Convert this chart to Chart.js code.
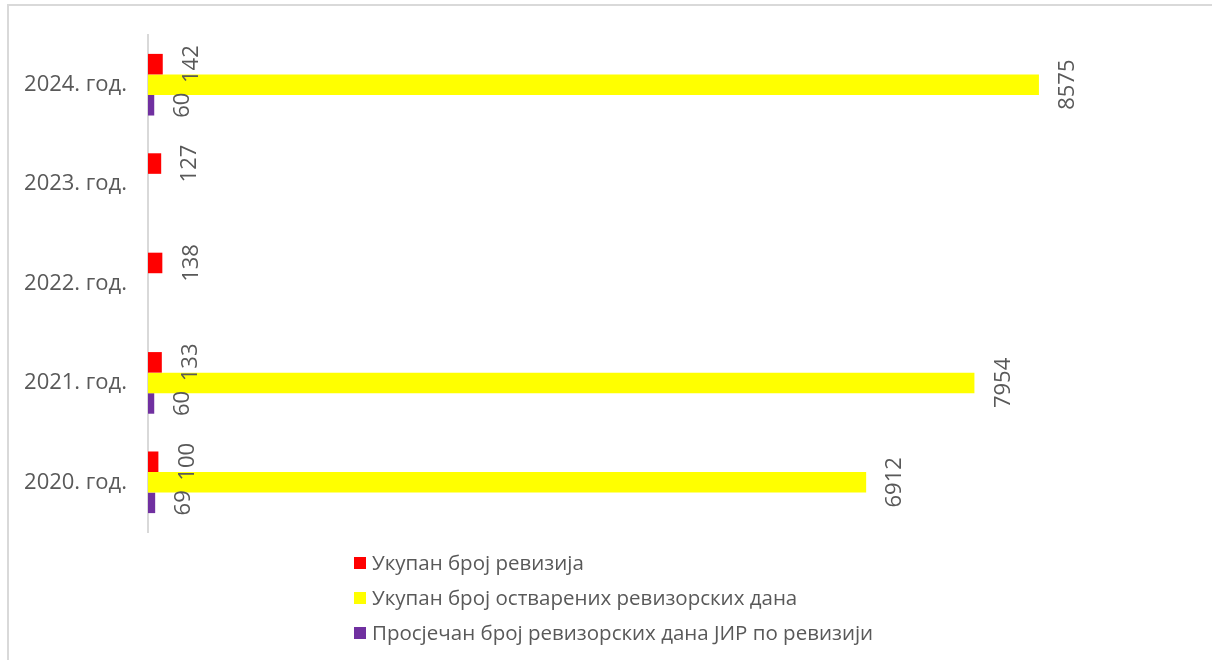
<!DOCTYPE html>
<html>
<head>
<meta charset="utf-8">
<script src="https://cdn.jsdelivr.net/npm/chart.js@4.4.1/dist/chart.umd.min.js"></script>
<style>
  html, body { margin: 0; padding: 0; background: #ffffff; }
  #wrap { position: relative; width: 1212px; height: 660px; overflow: hidden; }
  canvas { display: block; }
</style>
</head>
<body>
<div id="wrap"><canvas id="c" width="1212" height="660"></canvas></div>
<script>
const categories = ['2024. год.', '2023. год.', '2022. год.', '2021. год.', '2020. год.'];
const seriesNames = [
  'Укупан број ревизија',
  'Укупан број остварених ревизорских дана',
  'Просјечан број ревизорских дана ЈИР по ревизији'
];
const totalAudits = [142, 127, 138, 133, 100];
const totalDays = [8575, null, null, 7954, 6912];
const avgDays = [60, null, null, 60, 69];
const seriesColors = ['#FF0000', '#FFFF00', '#7030A0'];
const xMax = 10000;

const FONT = '"Open Sans", "Noto Sans", sans-serif';
const TEXT = '#595959';

const framePlugin = {
  id: 'frame',
  beforeDraw(chart) {
    const ctx = chart.ctx;
    ctx.save();
    ctx.fillStyle = '#ffffff';
    ctx.fillRect(0, 0, chart.width, chart.height);
    ctx.strokeStyle = '#d9d9d9';
    ctx.lineWidth = 2;
    ctx.strokeRect(8, 5, 1400, 900);
    ctx.restore();
  }
};

const labelPlugin = {
  id: 'rotLabels',
  afterDatasetsDraw(chart) {
    const ctx = chart.ctx;
    ctx.save();
    ctx.fillStyle = TEXT;
    ctx.font = '22px ' + FONT;
    ctx.textAlign = 'center';
    ctx.textBaseline = 'middle';
    chart.data.datasets.forEach((ds, i) => {
      const meta = chart.getDatasetMeta(i);
      meta.data.forEach((bar, j) => {
        const v = ds.data[j];
        if (v === null || v === undefined) return;
        const p = bar.getProps(['x', 'y'], true);
        ctx.save();
        ctx.translate(p.x + 28, p.y);
        ctx.rotate(-Math.PI / 2);
        ctx.fillText(String(v), 0, 1);
        ctx.restore();
      });
    });
    ctx.restore();
  }
};

const legendPlugin = {
  id: 'vLegend',
  afterDraw(chart) {
    const ctx = chart.ctx;
    ctx.save();
    ctx.font = '20.5px ' + FONT;
    ctx.textBaseline = 'middle';
    ctx.textAlign = 'left';
    const x0 = 354, y0 = 563, step = 35;
    chart.data.datasets.forEach((ds, i) => {
      const cy = y0 + i * step;
      ctx.fillStyle = ds.backgroundColor;
      ctx.fillRect(x0, cy - 6, 12, 12);
      ctx.fillStyle = TEXT;
      ctx.fillText(ds.label, x0 + 18, cy + 1);
    });
    ctx.restore();
  }
};

const datasets = [totalAudits, totalDays, avgDays].map((d, i) => ({
  label: seriesNames[i],
  data: d,
  backgroundColor: seriesColors[i],
  borderWidth: 0,
  categoryPercentage: 0.62,
  barPercentage: 1.0
}));

new Chart(document.getElementById('c'), {
  type: 'bar',
  data: { labels: categories, datasets },
  options: {
    indexAxis: 'y',
    responsive: false,
    animation: false,
    devicePixelRatio: 1,
    layout: { padding: { left: 0, right: 25, top: 35, bottom: 128 } },
    plugins: {
      legend: { display: false },
      tooltip: { enabled: false }
    },
    scales: {
      x: {
        display: false,
        min: 0,
        max: xMax
      },
      y: {
        afterFit(scale) { scale.width = 148; },
        grid: { display: false, drawTicks: false },
        border: { display: true, color: '#d9d9d9', width: 2 },
        ticks: {
          color: TEXT,
          padding: 21,
          font: { family: FONT, size: 22 }
        }
      }
    }
  },
  plugins: [framePlugin, labelPlugin, legendPlugin]
});
</script>
</body>
</html>
